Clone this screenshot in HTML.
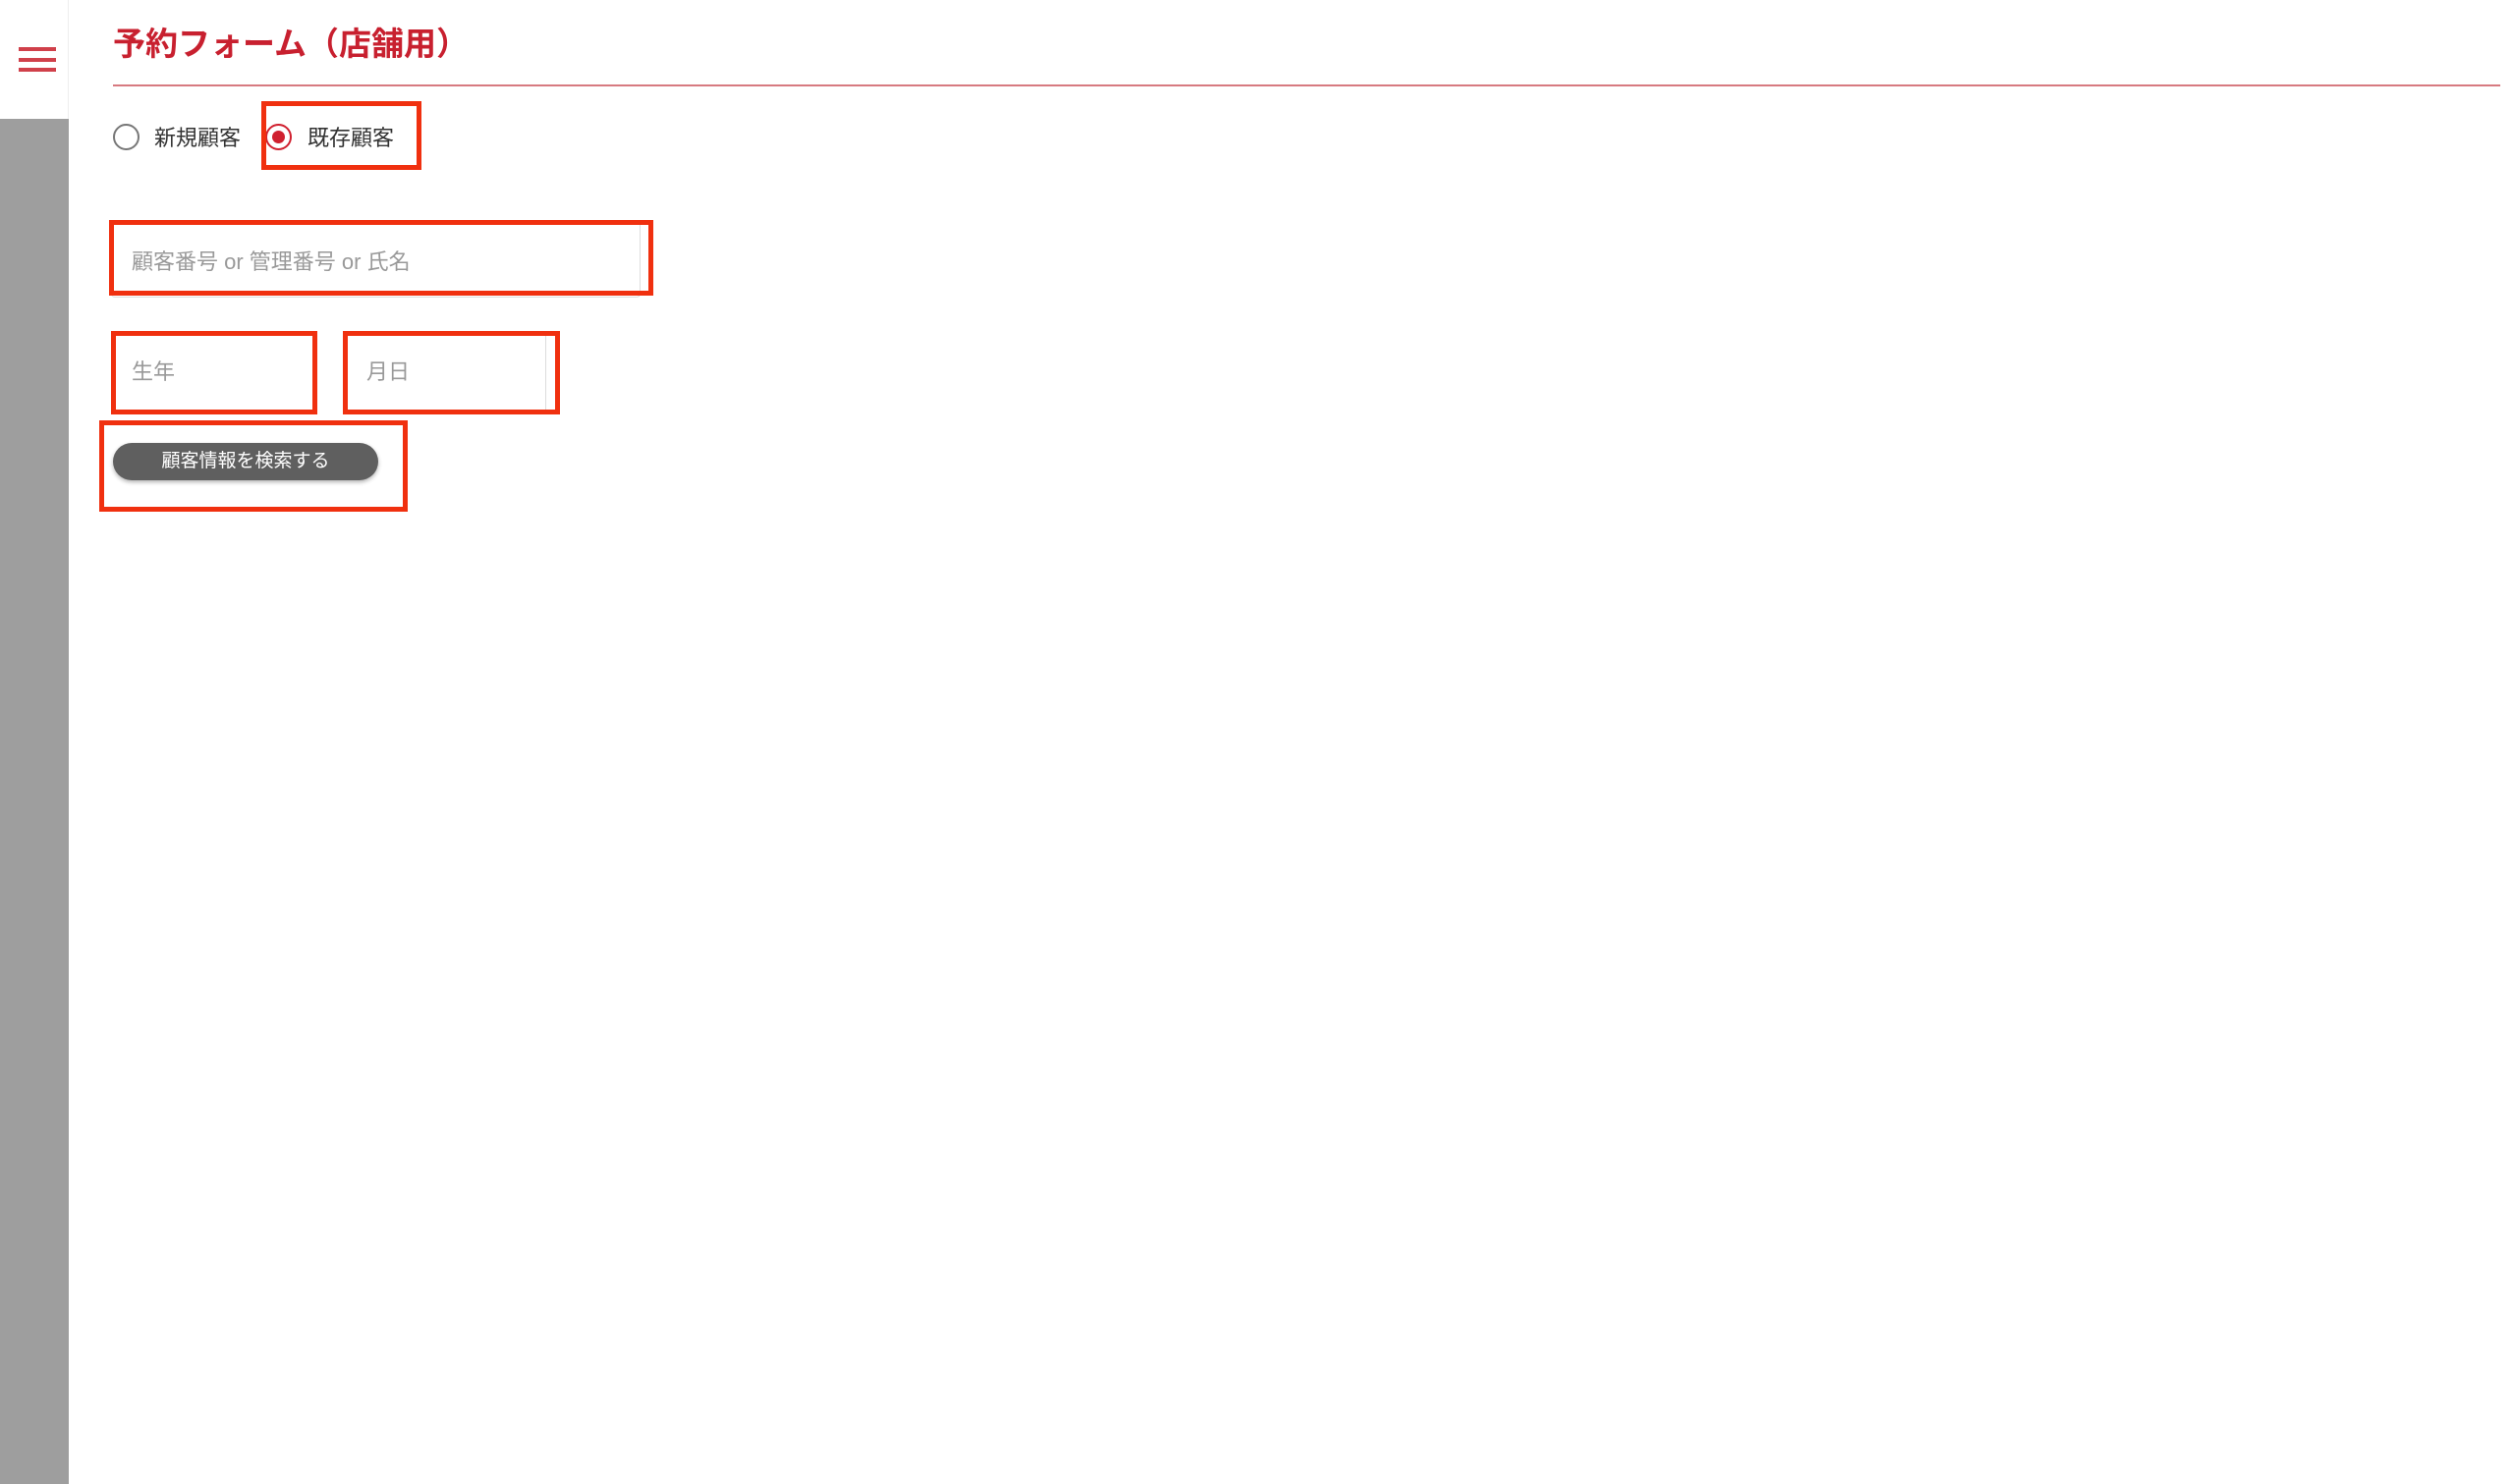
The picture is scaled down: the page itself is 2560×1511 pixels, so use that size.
<!DOCTYPE html>
<html><head><meta charset="utf-8"><style>
html,body{margin:0;padding:0;width:2560px;height:1511px;background:#fff;overflow:hidden;font-family:"Liberation Sans","Noto Sans CJK JP",sans-serif;}
.a{position:absolute;box-sizing:border-box;}
.rb{border:5px solid #f0300f;}
</style></head><body>
<div class="a" style="left:0;top:0;width:70px;height:121px;background:#fff;border-right:1px solid #eee"></div>
<div class="a" style="left:0;top:121px;width:70px;height:1390px;background:#9e9e9e"></div>
<div class="a" style="left:19px;top:48px;width:38px;height:4px;background:#d0404a"></div>
<div class="a" style="left:19px;top:59px;width:38px;height:4px;background:#d0404a"></div>
<div class="a" style="left:19px;top:69px;width:38px;height:4px;background:#d0404a"></div>
<div class="a" style="left:115px;top:18px;font-size:33px;font-weight:bold;color:#c8202f;white-space:nowrap">予約フォーム（店舗用）</div>
<div class="a" style="left:115px;top:86px;width:2430px;height:2px;background:#d77a80"></div>
<div class="a" style="left:115px;top:126px;width:27px;height:27px;border:2px solid #777;border-radius:50%"></div>
<div class="a" style="left:157px;top:123px;font-size:22px;color:#333">新規顧客</div>
<div class="a" style="left:270px;top:126px;width:27px;height:27px;border:2px solid #d0202f;border-radius:50%"></div>
<div class="a" style="left:277px;top:133px;width:13px;height:13px;background:#d0202f;border-radius:50%"></div>
<div class="a" style="left:313px;top:123px;font-size:22px;color:#333">既存顧客</div>
<div class="a rb" style="left:266px;top:103px;width:163px;height:70px"></div>
<div class="a" style="left:113px;top:226px;width:539px;height:77px;border-right:1px solid #ddd;border-bottom:1px solid #ddd;border-radius:0 0 4px 4px"></div>
<div class="a" style="left:134px;top:249px;font-size:22px;color:#999;white-space:nowrap">顧客番号 or 管理番号 or 氏名</div>
<div class="a rb" style="left:111px;top:224px;width:554px;height:77px"></div>
<div class="a" style="left:134px;top:361px;font-size:22px;color:#999">生年</div>
<div class="a rb" style="left:113px;top:337px;width:210px;height:85px"></div>
<div class="a" style="left:373px;top:361px;font-size:22px;color:#999">月日</div>
<div class="a" style="left:352px;top:341px;width:204px;height:76px;border-right:1px solid #ddd"></div>
<div class="a rb" style="left:349px;top:337px;width:221px;height:85px"></div>
<div class="a" style="left:115px;top:451px;width:270px;height:38px;background:#5f5f5f;border-radius:19px;color:#fff;font-size:19px;text-align:center;line-height:38px;box-shadow:0 2px 4px rgba(0,0,0,.3)">顧客情報を検索する</div>
<div class="a rb" style="left:101px;top:428px;width:314px;height:93px"></div>
</body></html>
